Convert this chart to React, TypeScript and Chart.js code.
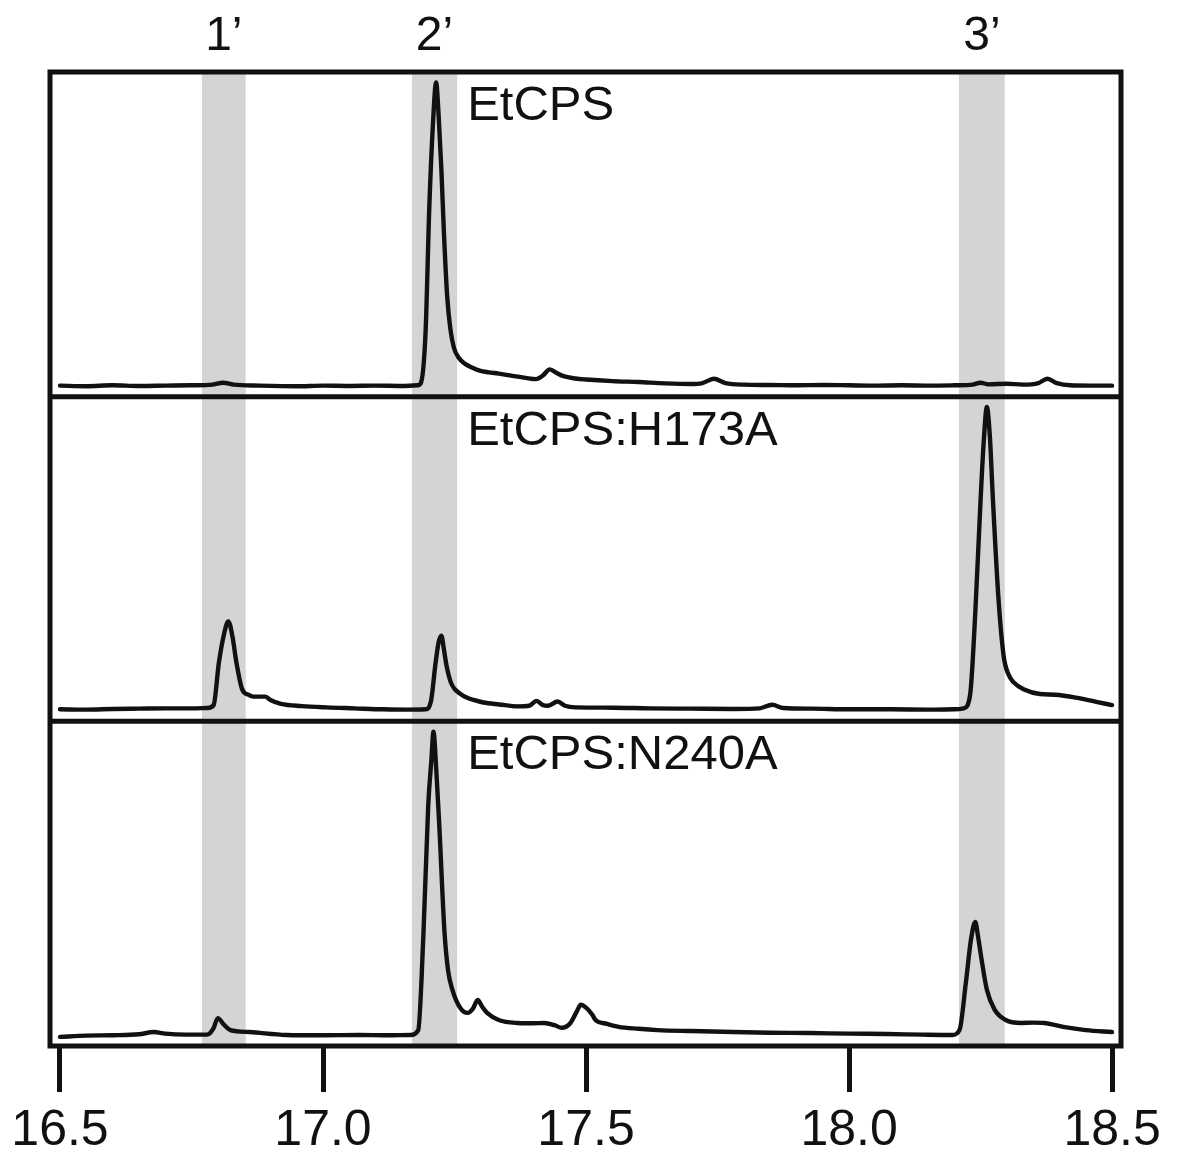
import React, { useEffect, useRef } from 'react';
import { Chart, registerables } from 'chart.js';

Chart.register(...registerables);

// ---- data ----
const sampleLabels = ['EtCPS', 'EtCPS:H173A', 'EtCPS:N240A'];
const bandLabels = ['1’', '2’', '3’'];
const bandStart = [16.77, 17.169, 18.209];
const bandEnd = [16.853, 17.255, 18.296];
const xTickValues = [16.5, 17.0, 17.5, 18.0, 18.5];

const etcpsTime = [16.50, 16.55, 16.60, 16.65, 16.70, 16.75, 16.79, 16.81, 16.83, 16.88, 16.95, 17.00, 17.05, 17.10, 17.15, 17.18, 17.186, 17.195, 17.202, 17.209, 17.215, 17.220, 17.225, 17.230, 17.236, 17.242, 17.249, 17.258, 17.269, 17.283, 17.298, 17.315, 17.334, 17.36, 17.385, 17.405, 17.418, 17.431, 17.445, 17.457, 17.48, 17.50, 17.55, 17.60, 17.65, 17.70, 17.72, 17.743, 17.765, 17.80, 17.85, 17.90, 17.95, 18.00, 18.05, 18.10, 18.15, 18.20, 18.235, 18.25, 18.265, 18.30, 18.33, 18.36, 18.377, 18.395, 18.42, 18.46, 18.50];
const etcpsSignal = [3.4, 3.2, 3.5, 3.3, 3.4, 3.5, 3.7, 4.3, 3.7, 3.4, 3.2, 3.4, 3.3, 3.4, 3.3, 3.5, 4.2, 20, 58, 84, 96.8, 86, 70, 50, 31, 21, 15, 12, 10.2, 9, 8.0, 7.5, 7.1, 6.4, 5.8, 5.4, 6.5, 8.4, 7.2, 6.3, 5.6, 5.3, 4.8, 4.5, 4.1, 3.9, 4.1, 5.5, 4.2, 3.7, 3.6, 3.5, 3.6, 3.5, 3.4, 3.5, 3.4, 3.5, 3.7, 4.3, 3.8, 4.0, 3.7, 4.2, 5.5, 4.2, 3.5, 3.4, 3.4];

const h173aTime = [16.50, 16.55, 16.60, 16.65, 16.70, 16.75, 16.78, 16.792, 16.802, 16.812, 16.820, 16.828, 16.835, 16.846, 16.858, 16.868, 16.89, 16.90, 16.92, 16.96, 17.006, 17.06, 17.115, 17.16, 17.195, 17.205, 17.214, 17.220, 17.225, 17.230, 17.235, 17.243, 17.25, 17.26, 17.272, 17.288, 17.305, 17.335, 17.37, 17.392, 17.406, 17.418, 17.428, 17.446, 17.46, 17.48, 17.55, 17.62, 17.70, 17.78, 17.83, 17.854, 17.875, 17.93, 18.00, 18.08, 18.15, 18.20, 18.218, 18.23, 18.24, 18.25, 18.256, 18.262, 18.268, 18.273, 18.284, 18.294, 18.303, 18.313, 18.333, 18.363, 18.392, 18.435, 18.47, 18.50];
const h173aSignal = [3.7, 3.6, 3.8, 3.9, 4.0, 4.0, 4.1, 5.0, 18, 27, 30.8, 26, 18.5, 10, 8.2, 7.6, 7.6, 6.6, 5.4, 4.7, 4.3, 4.0, 3.7, 3.6, 3.7, 6, 18, 24.5, 26.4, 22, 17, 12, 10, 8.6, 7.4, 6.5, 5.8, 5.2, 4.6, 4.8, 6.3, 5.0, 4.8, 6.1, 4.8, 4.3, 4.2, 4.0, 3.9, 3.8, 4.0, 5.1, 4.1, 3.9, 3.7, 3.7, 3.6, 3.7, 4.0, 8, 33.5, 68, 86, 96.8, 87, 70, 38, 20, 14.5, 12, 9.8, 8.4, 8.2, 7.2, 6.0, 5.0];

const n240aTime = [16.50, 16.55, 16.60, 16.65, 16.678, 16.70, 16.74, 16.78, 16.792, 16.80, 16.812, 16.824, 16.86, 16.93, 17.00, 17.07, 17.12, 17.166, 17.181, 17.191, 17.200, 17.206, 17.210, 17.215, 17.221, 17.231, 17.238, 17.246, 17.261, 17.275, 17.285, 17.294, 17.303, 17.312, 17.334, 17.37, 17.40, 17.421, 17.44, 17.454, 17.47, 17.482, 17.49, 17.50, 17.512, 17.518, 17.54, 17.562, 17.60, 17.636, 17.70, 17.78, 17.85, 17.926, 18.00, 18.072, 18.14, 18.196, 18.21, 18.222, 18.232, 18.24, 18.245, 18.25, 18.262, 18.277, 18.298, 18.327, 18.35, 18.371, 18.407, 18.45, 18.50];
const n240aSignal = [2.8, 3.2, 3.3, 3.6, 4.3, 3.8, 3.5, 3.5, 5.5, 8.6, 6.5, 4.9, 4.3, 3.4, 3.3, 3.4, 3.3, 3.4, 4.9, 34.9, 74, 88, 96.8, 86, 68, 34.9, 23, 17.3, 11.7, 10.2, 11.5, 14.2, 12.0, 10.2, 8.0, 7.1, 7.0, 7.1, 6.4, 5.6, 7.0, 10.5, 12.7, 11.8, 9.6, 8.0, 6.8, 5.9, 5.3, 4.9, 4.6, 4.3, 4.1, 4.0, 3.8, 3.7, 3.5, 3.4, 4.9, 19.4, 33, 38.2, 34, 28.7, 17.3, 11.1, 8.0, 7.1, 7.2, 7.1, 5.9, 4.9, 4.3];

const FONT = "'Liberation Sans', Arial, Helvetica, sans-serif";
const INK = '#111111';

const toPoints = (t: number[], s: number[]) => t.map((x, i) => ({ x, y: s[i] }));

const panelAxisIds = ['yTop', 'yMid', 'yBot'];

const decorPlugin = {
  id: 'decor',
  beforeDatasetsDraw(chart: any) {
    const { ctx, chartArea: a, scales } = chart;
    const xs = scales.x;
    ctx.save();
    ctx.fillStyle = '#d4d4d4';
    bandStart.forEach((s, i) => {
      const x0 = xs.getPixelForValue(s);
      const x1 = xs.getPixelForValue(bandEnd[i]);
      ctx.fillRect(x0, a.top, x1 - x0, a.bottom - a.top);
    });
    ctx.restore();
  },
  afterDatasetsDraw(chart: any) {
    const { ctx, chartArea: a, scales } = chart;
    const xs = scales.x;
    ctx.save();
    ctx.strokeStyle = INK;
    ctx.lineWidth = 5;
    ctx.strokeRect(a.left, a.top, a.right - a.left, a.bottom - a.top);
    panelAxisIds.forEach((id, i) => {
      const sc = scales[id];
      if (i > 0) {
        ctx.beginPath();
        ctx.moveTo(a.left, sc.top);
        ctx.lineTo(a.right, sc.top);
        ctx.stroke();
      }
      ctx.fillStyle = INK;
      ctx.font = `49px ${FONT}`;
      ctx.textAlign = 'left';
      ctx.textBaseline = 'alphabetic';
      ctx.fillText(sampleLabels[i], xs.getPixelForValue(bandEnd[1]) + 10, sc.top + 48);
    });
    ctx.restore();
  },
};

export default function App() {
  const ref = useRef<HTMLCanvasElement | null>(null);
  useEffect(() => {
    if (!ref.current) return;
    const series = [
      { label: sampleLabels[0], t: etcpsTime, s: etcpsSignal, axis: 'yTop' },
      { label: sampleLabels[1], t: h173aTime, s: h173aSignal, axis: 'yMid' },
      { label: sampleLabels[2], t: n240aTime, s: n240aSignal, axis: 'yBot' },
    ];
    const panelScale = () => ({
      type: 'linear',
      position: 'left',
      stack: 'panels',
      stackWeight: 1,
      min: 0,
      max: 100,
      display: true,
      grid: { display: false, drawTicks: false },
      border: { display: false },
      ticks: { display: false },
      afterFit: (s: any) => { s.width = 0; },
    });
    const chart = new Chart(ref.current, {
      type: 'line',
      data: {
        datasets: series.map((d) => ({
          label: d.label,
          data: toPoints(d.t, d.s),
          yAxisID: d.axis,
          xAxisID: 'x',
          borderColor: INK,
          borderWidth: 4.4,
          pointRadius: 0,
          fill: false,
          cubicInterpolationMode: 'monotone',
          borderJoinStyle: 'round',
          borderCapStyle: 'round',
        })),
      },
      options: {
        animation: false,
        responsive: false,
        devicePixelRatio: 1,
        events: [],
        layout: { padding: { left: 50, right: 57, top: 0, bottom: 0 } },
        plugins: { legend: { display: false }, tooltip: { enabled: false } },
        scales: {
          x: {
            type: 'linear',
            position: 'bottom',
            min: 16.481,
            max: 18.517,
            afterBuildTicks: (s: any) => { s.ticks = xTickValues.map((v) => ({ value: v })); },
            afterFit: (s: any) => { s.height = 108; },
            grid: { display: true, drawOnChartArea: false, drawTicks: true, tickLength: 46, tickWidth: 5, tickColor: INK, lineWidth: 5, color: INK },
            border: { display: false },
            ticks: {
              autoSkip: false,
              maxRotation: 0,
              padding: 9,
              color: INK,
              font: { family: FONT, size: 50 },
              callback: (v: any) => Number(v).toFixed(1),
            },
          },
          xTop: {
            type: 'linear',
            position: 'top',
            min: 16.481,
            max: 18.517,
            afterBuildTicks: (s: any) => { s.ticks = bandStart.map((b, i) => ({ value: (b + bandEnd[i]) / 2 })); },
            afterFit: (s: any) => { s.height = 72; },
            grid: { display: false, drawTicks: false },
            border: { display: false },
            ticks: {
              autoSkip: false,
              maxRotation: 0,
              padding: 6,
              color: INK,
              font: { family: FONT, size: 48 },
              callback: (_v: any, i: number) => bandLabels[i],
            },
          },
          yBot: panelScale(),
          yMid: panelScale(),
          yTop: panelScale(),
        } as any,
      },
      plugins: [decorPlugin],
    } as any);
    return () => chart.destroy();
  }, []);
  return (
    <div style={{ position: 'absolute', left: 0, top: 0, width: 1178, height: 1154, background: '#fff' }}>
      <canvas ref={ref} width={1178} height={1154} style={{ width: 1178, height: 1154, display: 'block' }} />
    </div>
  );
}
